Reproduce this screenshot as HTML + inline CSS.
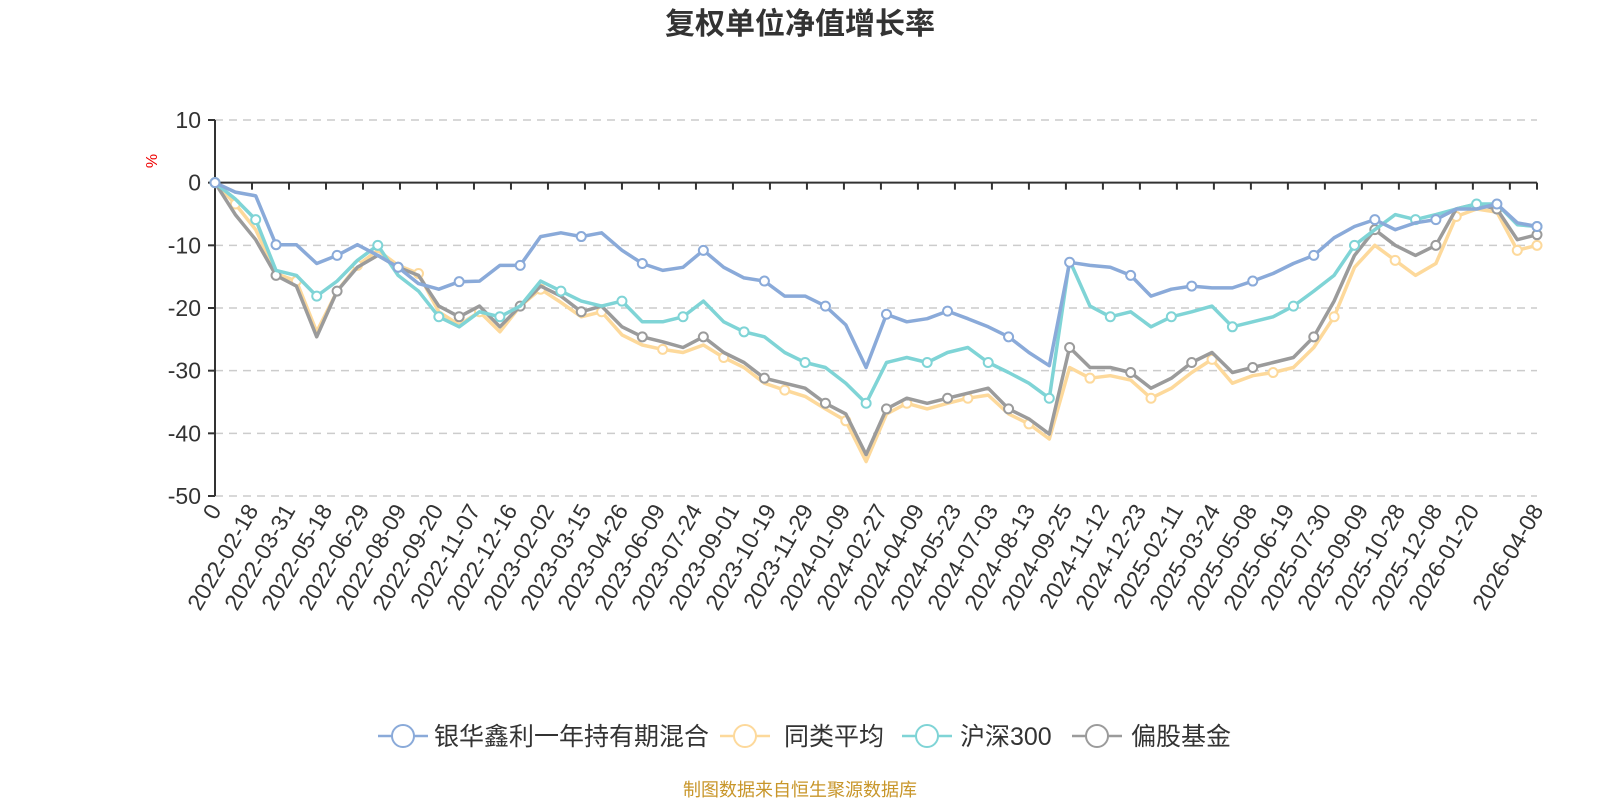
<!DOCTYPE html>
<html><head><meta charset="utf-8">
<style>
html,body{margin:0;padding:0;background:#fff;}
svg{display:block;font-family:"Liberation Sans","Noto Sans CJK SC",sans-serif;}
</style></head>
<body>
<svg id="chart" width="1600" height="800" viewBox="0 0 1600 800">
<text x="800" y="34" text-anchor="middle" font-size="30" font-weight="bold" fill="#333" font-family="'Liberation Sans','Noto Sans CJK SC',sans-serif">复权单位净值增长率</text>
<text x="0" y="0" transform="translate(157,161) rotate(-90)" text-anchor="middle" font-size="16" fill="#e00">%</text>
<g id="grid"></g><g id="axes"></g><g id="series"></g>
<g id="legend" font-size="25" fill="#333" font-family="'Liberation Sans','Noto Sans CJK SC',sans-serif"></g>
<text x="800" y="796" text-anchor="middle" font-size="18" fill="#c8962a" font-family="'Liberation Sans','Noto Sans CJK SC',sans-serif">制图数据来自恒生聚源数据库</text>
</svg>
<script>
const xLabels=["0","2022-02-18","2022-03-31","2022-05-18","2022-06-29","2022-08-09","2022-09-20","2022-11-07","2022-12-16","2023-02-02","2023-03-15","2023-04-26","2023-06-09","2023-07-24","2023-09-01","2023-10-19","2023-11-29","2024-01-09","2024-02-27","2024-04-09","2024-05-23","2024-07-03","2024-08-13","2024-09-25","2024-11-12","2024-12-23","2025-02-11","2025-03-24","2025-05-08","2025-06-19","2025-07-30","2025-09-09","2025-10-28","2025-12-08","2026-01-20"];
const lastLabel="2026-04-08";
const yTicks=[10,0,-10,-20,-30,-40,-50];
const seriesNames=["银华鑫利一年持有期混合","同类平均","沪深300","偏股基金"];
const fundValues=[0,-1.5,-2.1,-9.9,-9.9,-12.9,-11.6,-9.9,-11.6,-13.5,-16.1,-17,-15.8,-15.7,-13.2,-13.2,-8.6,-8,-8.6,-8,-10.8,-12.9,-14,-13.5,-10.8,-13.5,-15.2,-15.7,-18.1,-18.1,-19.7,-22.7,-29.5,-21,-22.2,-21.7,-20.5,-21.7,-23,-24.6,-27.1,-29.2,-12.7,-13.2,-13.5,-14.8,-18.1,-17,-16.5,-16.8,-16.8,-15.7,-14.5,-12.9,-11.6,-8.8,-7,-5.9,-7.5,-6.4,-5.9,-4.2,-4.2,-3.4,-6.4,-7.0];
const peerValues=[0,-3.4,-7.5,-14.5,-15.7,-23.8,-17.3,-13.2,-10.8,-13.2,-14.5,-20.6,-22.7,-20.6,-23.8,-19.7,-17.0,-19.1,-21.4,-20.6,-24.3,-25.9,-26.6,-27.1,-25.9,-27.9,-29.5,-32.0,-33.1,-34.1,-36.1,-38.0,-44.5,-36.9,-35.2,-36.1,-35.2,-34.4,-33.9,-36.9,-38.5,-40.9,-29.5,-31.2,-30.8,-31.5,-34.4,-32.8,-30.3,-28.2,-32.0,-30.8,-30.3,-29.5,-26.3,-21.4,-13.5,-10.0,-12.4,-14.8,-12.9,-5.4,-4.2,-4.7,-10.8,-10.0];
const hs300Values=[0,-2.6,-5.9,-14.0,-14.8,-18.1,-15.7,-12.4,-10.0,-14.8,-17.3,-21.4,-23.0,-20.6,-21.4,-19.7,-15.7,-17.3,-18.9,-19.7,-18.9,-22.2,-22.2,-21.4,-18.9,-22.2,-23.8,-24.6,-27.1,-28.7,-29.5,-32.0,-35.2,-28.7,-27.9,-28.7,-27.1,-26.3,-28.7,-30.3,-32.0,-34.4,-12.4,-19.7,-21.4,-20.6,-23.0,-21.4,-20.6,-19.7,-23.0,-22.2,-21.4,-19.7,-17.3,-14.8,-10.0,-7.5,-5.1,-5.9,-5.1,-4.2,-3.4,-3.4,-6.7,-7.0];
const equityValues=[0,-5.1,-9.1,-14.8,-16.5,-24.6,-17.3,-13.5,-11.6,-13.5,-14.8,-19.7,-21.4,-19.7,-23.0,-19.7,-16.5,-18.1,-20.6,-19.7,-23.0,-24.6,-25.4,-26.3,-24.6,-27.1,-28.7,-31.2,-32.0,-32.8,-35.2,-36.9,-43.4,-36.1,-34.4,-35.2,-34.4,-33.6,-32.8,-36.1,-37.7,-40.1,-26.3,-29.5,-29.5,-30.3,-32.8,-31.2,-28.7,-27.1,-30.3,-29.5,-28.7,-27.9,-24.6,-18.9,-11.6,-7.5,-10.0,-11.6,-10.0,-4.2,-3.4,-4.2,-9.1,-8.3];

const NS="http://www.w3.org/2000/svg";
const X0=215,X1=1537,YTOP=120,YBOT=496;
const PX=(YBOT-YTOP)/60,Y0=YTOP+10*PX;
const TOTAL=1072, TICKDAYS=30;
function xDay(d){return X0+d/TOTAL*(X1-X0);}
function sampleDay(k,n){return k<n-1? k*16.5 : TOTAL;}
function yv(v){return Y0-v*PX;}
function mk(tag,attrs,parent){const e=document.createElementNS(NS,tag);for(const k in attrs)e.setAttribute(k,attrs[k]);parent.appendChild(e);return e;}
const grid=document.getElementById('grid'),axes=document.getElementById('axes'),ser=document.getElementById('series'),leg=document.getElementById('legend');

yTicks.forEach(t=>{
  const y=yv(t);
  if(t!==0){const l=mk('line',{x1:X0,x2:X1,y1:y,y2:y,stroke:'#ccc','stroke-width':1.5,'stroke-dasharray':'8,6'},grid);
    
    }
  const tk=mk('line',{x1:X0-7,x2:X0,y1:y,y2:y,stroke:'#333','stroke-width':2},axes);
  
  
  const tx=mk('text',{x:X0-14,y:y+8,'text-anchor':'end','font-size':23,fill:'#333'},axes);
  tx.textContent=t;
  
  
});
const ya=mk('line',{x1:X0,x2:X0,y1:yv(10),y2:yv(-50),stroke:'#333','stroke-width':2},axes);


const xa=mk('line',{x1:X0,x2:X1,y1:Y0,y2:Y0,stroke:'#333','stroke-width':2},axes);



function xLabel(txt,x){
  const t=mk('text',{x:0,y:0,transform:`translate(${x+7},${YBOT+14}) rotate(-60)`,'text-anchor':'end','font-size':23,fill:'#333'},axes);
  t.textContent=txt;
  
  
}
const tickCount=Math.floor(TOTAL/TICKDAYS);
for(let i=0;i<=tickCount;i++){
  const x=xDay(i*TICKDAYS);
  const tk=mk('line',{x1:x,x2:x,y1:Y0,y2:Y0+7,stroke:'#333','stroke-width':2},axes);
  
  
  if(i<xLabels.length) xLabel(xLabels[i],x);
}
const ek=mk('line',{x1:X1,x2:X1,y1:Y0,y2:Y0+7,stroke:'#333','stroke-width':2},axes);


xLabel(lastLabel,X1);

const colors=["#8aaad9","#fdd99b","#7fd4d6","#9b9b9b"];
const allSeries=[fundValues,peerValues,hs300Values,equityValues];
const seriesKeys=['fund','peer-average','hs300','equity-fund'];
const order=[1,3,2,0];
order.forEach(si=>{
  const vals=allSeries[si],n=vals.length;
  const g=mk('g',{},ser);
  
  
  const pts=vals.map((v,k)=>xDay(sampleDay(k,n)).toFixed(1)+','+yv(v).toFixed(1)).join(' ');
  const pl=mk('polyline',{points:pts,fill:'none',stroke:colors[si],'stroke-width':3.5,'stroke-linejoin':'round'},g);
  
  
  vals.forEach((v,k)=>{
    if(k===0||(k%3===(si%3)&&k<n-1)||k===n-1){
      const c=mk('circle',{cx:xDay(sampleDay(k,n)),cy:yv(v),r:4.5,fill:'#fff',stroke:colors[si],'stroke-width':2},g);
      
      
    }
  });
});

const legX=[378,720,902,1072],legTxt=[434,784,960,1131];
seriesNames.forEach((nm,i)=>{
  const g=mk('g',{},leg);
  
  
  mk('line',{x1:legX[i],x2:legX[i]+50,y1:736,y2:736,stroke:colors[i],'stroke-width':2.5},g);
  mk('circle',{cx:legX[i]+25,cy:736,r:11,fill:'#fff',stroke:colors[i],'stroke-width':2},g);
  const t=mk('text',{x:legTxt[i],y:745},g);
  t.textContent=nm;
});
</script>
</body></html>
